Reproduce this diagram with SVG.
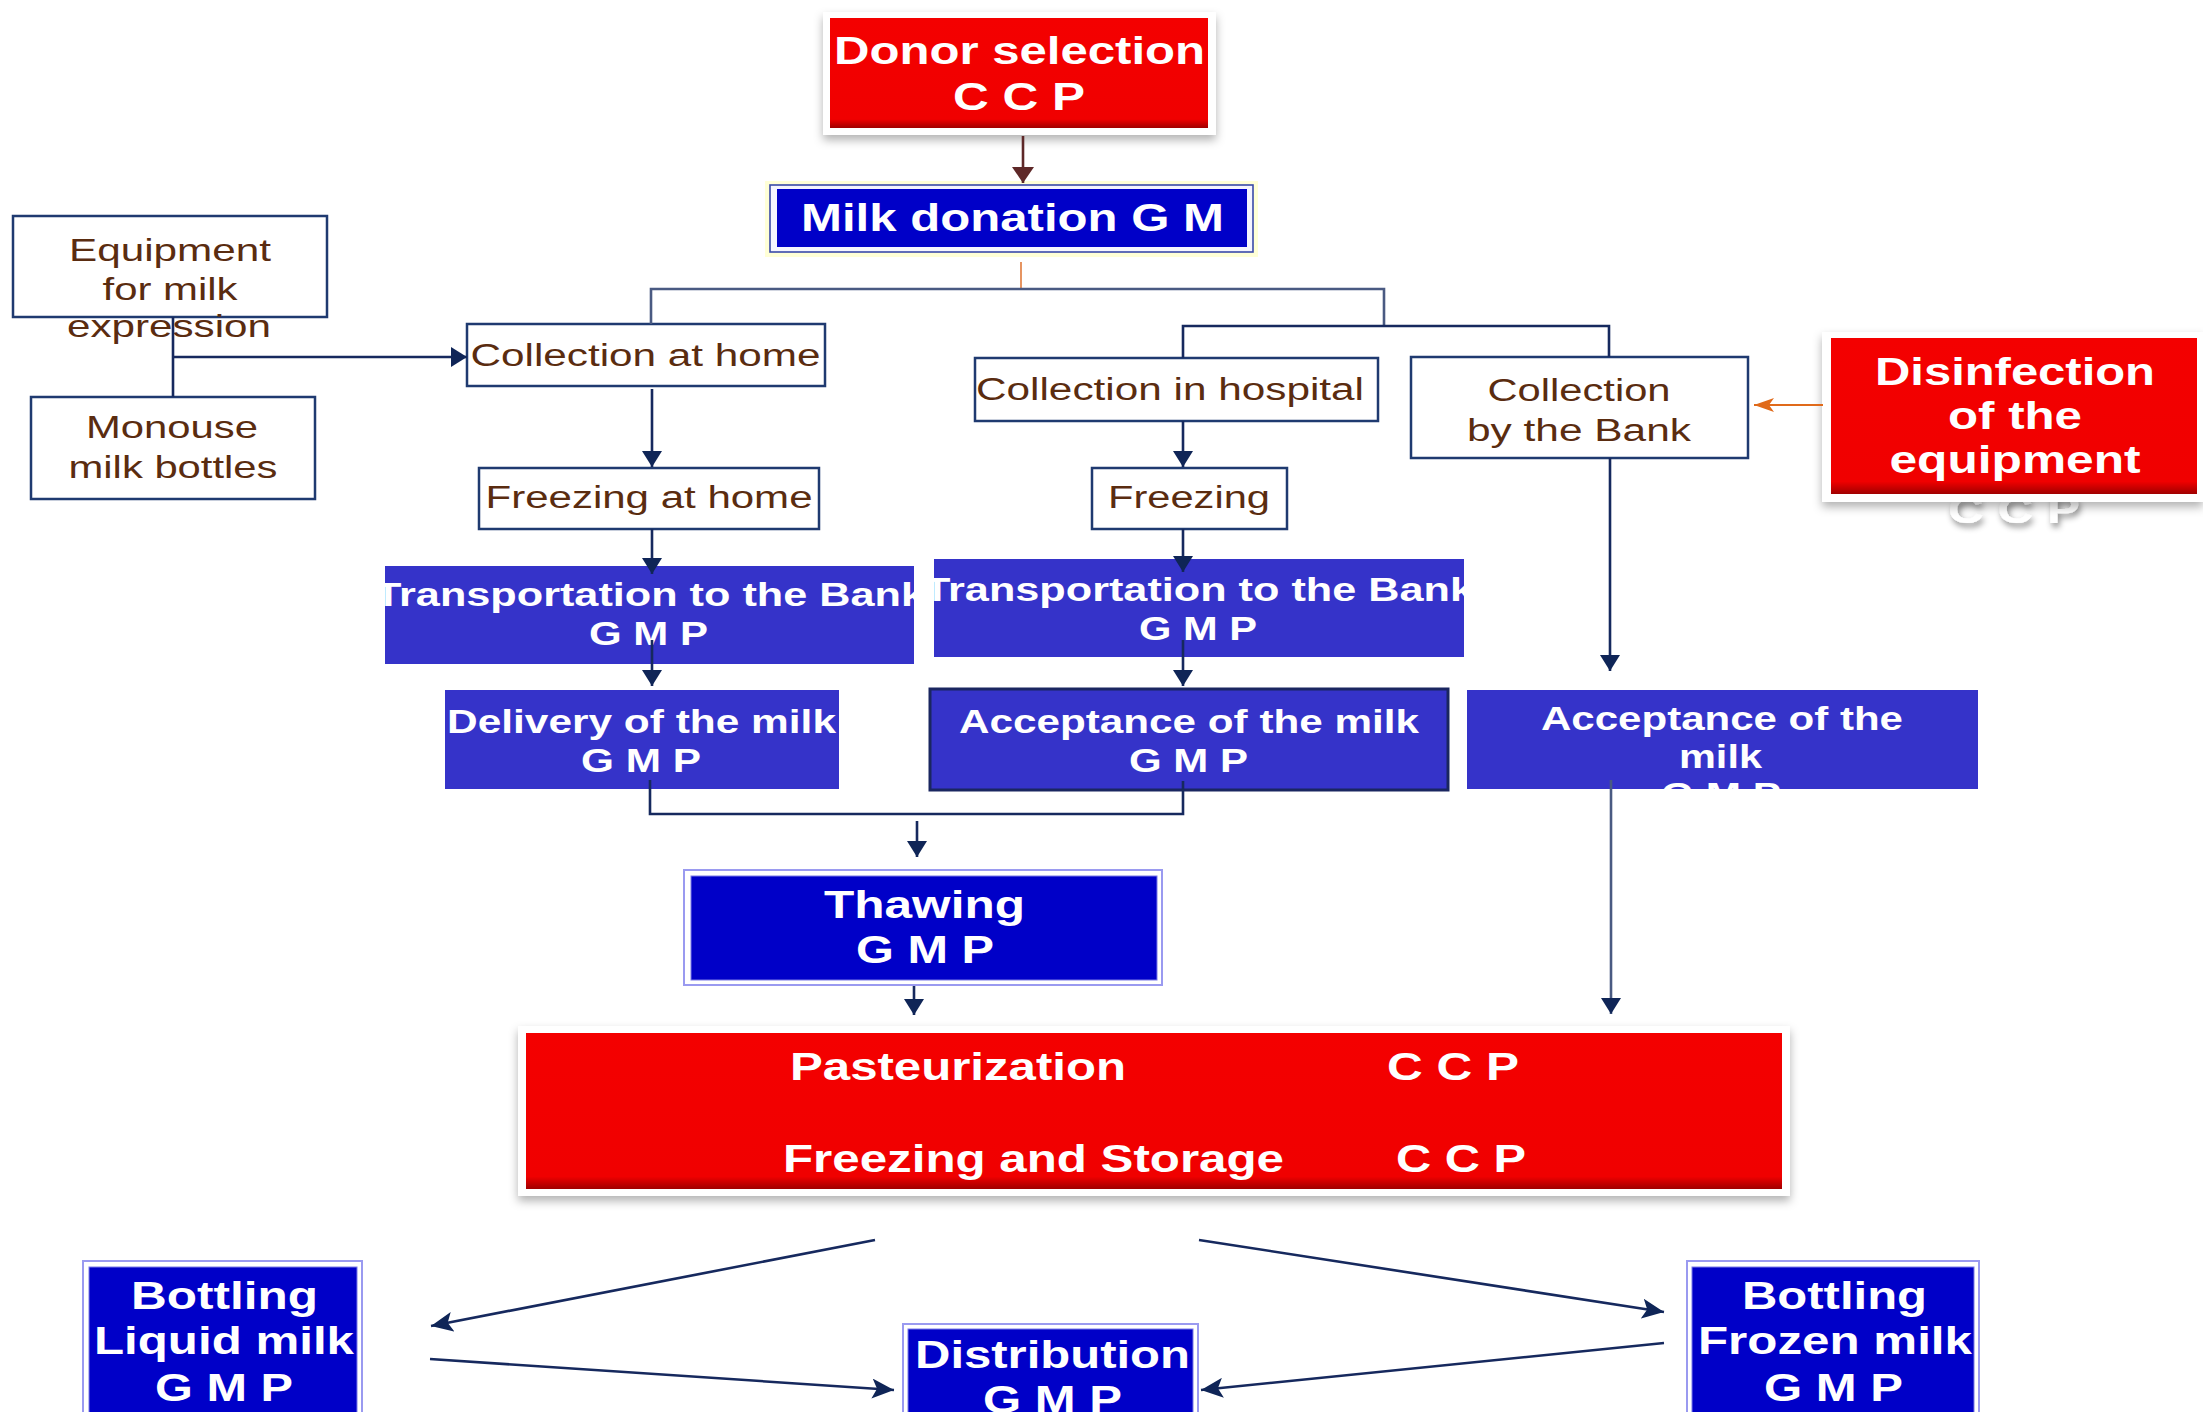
<svg xmlns="http://www.w3.org/2000/svg" width="2203" height="1412" viewBox="0 0 2203 1412">
<style>
  .wb { fill: #ffffff; stroke: #1f3a70; stroke-width: 2.5; }
  .bt { font-family: "Liberation Sans", Arial, sans-serif; font-size: 31px; fill: #5a2c10; text-anchor: middle; }
  .wt { font-family: "Liberation Sans", Arial, sans-serif; font-weight: bold; fill: #ffffff; text-anchor: middle; }
  .s33 { font-size: 33px; }
  .s38 { font-size: 38px; }
  .s39 { font-size: 39px; }
  .mid { fill: #3533c9; }
  .deep { fill: #0000c8; }
  .lav { fill: #ffffff; stroke: #9a9af0; stroke-width: 2; }
  .frame { fill: #ffffff; filter: url(#sh); }
  .red { fill: url(#rg); }
  .cn { fill: none; stroke: #16295e; stroke-width: 2.6; }
  .cg { fill: none; stroke: #4a5a82; stroke-width: 2.6; }
</style>
<defs>
  <linearGradient id="rg" x1="0" y1="0" x2="0" y2="1">
    <stop offset="0" stop-color="#f40000"/>
    <stop offset="0.92" stop-color="#f00000"/>
    <stop offset="1" stop-color="#a00000"/>
  </linearGradient>
  <filter id="sh" x="-5%" y="-15%" width="110%" height="140%">
    <feDropShadow dx="0" dy="5" stdDeviation="5" flood-color="#000000" flood-opacity="0.3"/>
  </filter>
  <filter id="tsh" x="-10%" y="-30%" width="130%" height="180%">
    <feDropShadow dx="2" dy="4" stdDeviation="3" flood-color="#000000" flood-opacity="0.45"/>
  </filter>
  <marker id="ah" viewBox="0 0 16 20" refX="16" refY="10" markerWidth="16" markerHeight="20" markerUnits="userSpaceOnUse" orient="auto">
    <path d="M0,0 L16,10 L0,20 z" fill="#0f2557"/>
  </marker>
  <marker id="ahb" viewBox="0 0 16 22" refX="16" refY="11" markerWidth="16" markerHeight="22" markerUnits="userSpaceOnUse" orient="auto">
    <path d="M0,0 L16,11 L0,22 z" fill="#5e2828"/>
  </marker>
  <marker id="aho" viewBox="0 0 20 14" refX="20" refY="7" markerWidth="20" markerHeight="14" markerUnits="userSpaceOnUse" orient="auto">
    <path d="M0,0 L20,7 L0,14 L5,7 z" fill="#e06a1a"/>
  </marker>
  <marker id="ahd" viewBox="0 0 22 20" refX="22" refY="10" markerWidth="22" markerHeight="20" markerUnits="userSpaceOnUse" orient="auto">
    <path d="M0,0 L22,10 L0,20 L5,10 z" fill="#0f2557"/>
  </marker>
  <clipPath id="clipT1"><rect x="385" y="566" width="529" height="98"/></clipPath>
  <clipPath id="clipT2"><rect x="934" y="559" width="530" height="98"/></clipPath>
  <clipPath id="clipA3"><rect x="1467" y="690" width="511" height="99"/></clipPath>
</defs>

<rect x="0" y="0" width="2203" height="1412" fill="#ffffff"/>

<g id="donor-selection">
  <rect class="frame" x="823" y="12" width="393" height="123"/>
  <rect class="red" x="830" y="18" width="378" height="110"/>
  <text class="wt s38" x="1019.5" y="64" textLength="371" lengthAdjust="spacingAndGlyphs">Donor selection</text>
  <text class="wt s38" x="1019" y="110" textLength="132" lengthAdjust="spacingAndGlyphs">C C P</text>
</g>

<g id="milk-donation">
  <rect x="765" y="181" width="493" height="76" fill="#ffffd6"/>
  <rect x="770" y="185" width="483" height="67" fill="#f4f4ff" stroke="#3a4aa8" stroke-width="1.6"/>
  <rect class="deep" x="777" y="189" width="470" height="58"/>
  <text class="wt s39" x="1012.5" y="231" textLength="423" lengthAdjust="spacingAndGlyphs">Milk donation G M</text>
</g>

<g id="equipment">
  <rect class="wb" x="13" y="216" width="314" height="101"/>
  <text class="bt" style="font-size:32px" x="170" y="261" textLength="202" lengthAdjust="spacingAndGlyphs">Equipment</text>
  <text class="bt" style="font-size:32px" x="170" y="300" textLength="135" lengthAdjust="spacingAndGlyphs">for milk</text>
  <text class="bt" style="font-size:32px" x="169" y="337" textLength="204" lengthAdjust="spacingAndGlyphs">expression</text>
</g>

<g id="monouse">
  <rect class="wb" x="31" y="397" width="284" height="102"/>
  <text class="bt" style="font-size:32px" x="172" y="438" textLength="172" lengthAdjust="spacingAndGlyphs">Monouse</text>
  <text class="bt" style="font-size:32px" x="173" y="478" textLength="209" lengthAdjust="spacingAndGlyphs">milk bottles</text>
</g>

<g id="collection-home">
  <rect class="wb" x="467" y="324" width="358" height="62"/>
  <text class="bt" x="645.5" y="366" textLength="350" lengthAdjust="spacingAndGlyphs">Collection at home</text>
</g>

<g id="freezing-home">
  <rect class="wb" x="479" y="468" width="340" height="61"/>
  <text class="bt" x="649" y="508" textLength="327" lengthAdjust="spacingAndGlyphs">Freezing at home</text>
</g>

<g id="collection-hospital">
  <rect class="wb" x="975" y="358" width="403" height="63"/>
  <text class="bt" x="1170" y="400" textLength="388" lengthAdjust="spacingAndGlyphs">Collection in hospital</text>
</g>

<g id="freezing">
  <rect class="wb" x="1092" y="468" width="195" height="61"/>
  <text class="bt" x="1189" y="508" textLength="162" lengthAdjust="spacingAndGlyphs">Freezing</text>
</g>

<g id="collection-bank">
  <rect class="wb" x="1411" y="357" width="337" height="101"/>
  <text class="bt" x="1579" y="401" textLength="183" lengthAdjust="spacingAndGlyphs">Collection</text>
  <text class="bt" x="1579" y="441" textLength="224" lengthAdjust="spacingAndGlyphs">by the Bank</text>
</g>

<g id="disinfection">
  <text class="wt s39" x="2014" y="523" textLength="132" lengthAdjust="spacingAndGlyphs" filter="url(#tsh)">C C P</text>
  <rect class="frame" x="1822" y="332" width="381" height="170"/>
  <rect class="red" x="1831" y="338" width="366" height="156"/>
  <text class="wt s39" x="2015" y="385" textLength="280" lengthAdjust="spacingAndGlyphs">Disinfection</text>
  <text class="wt s39" x="2015" y="429" textLength="134" lengthAdjust="spacingAndGlyphs">of the</text>
  <text class="wt s39" x="2015" y="473" textLength="251" lengthAdjust="spacingAndGlyphs">equipment</text>
</g>

<g id="transport-home">
  <rect class="mid" x="385" y="566" width="529" height="98"/>
  <g clip-path="url(#clipT1)">
    <text class="wt s33" x="650" y="606" textLength="550" lengthAdjust="spacingAndGlyphs">Transportation to the Bank</text>
  </g>
  <text class="wt s33" x="648.5" y="645" textLength="119" lengthAdjust="spacingAndGlyphs">G M P</text>
</g>

<g id="transport-hospital">
  <rect class="mid" x="934" y="559" width="530" height="98"/>
  <g clip-path="url(#clipT2)">
    <text class="wt s33" x="1199" y="601" textLength="550" lengthAdjust="spacingAndGlyphs">Transportation to the Bank</text>
  </g>
  <text class="wt s33" x="1198" y="640" textLength="118" lengthAdjust="spacingAndGlyphs">G M P</text>
</g>

<g id="delivery">
  <rect class="mid" x="445" y="690" width="394" height="99"/>
  <text class="wt s33" x="641.5" y="733" textLength="389" lengthAdjust="spacingAndGlyphs">Delivery of the milk</text>
  <text class="wt s33" x="641" y="772" textLength="120" lengthAdjust="spacingAndGlyphs">G M P</text>
</g>

<g id="acceptance-hospital">
  <rect class="mid" x="930" y="689" width="518" height="101" stroke="#1a2660" stroke-width="3"/>
  <text class="wt s33" x="1189" y="733" textLength="460" lengthAdjust="spacingAndGlyphs">Acceptance of the milk</text>
  <text class="wt s33" x="1188.5" y="772" textLength="119" lengthAdjust="spacingAndGlyphs">G M P</text>
</g>

<g id="acceptance-bank">
  <rect class="mid" x="1467" y="690" width="511" height="99"/>
  <g clip-path="url(#clipA3)">
    <text class="wt s33" x="1722" y="730" textLength="362" lengthAdjust="spacingAndGlyphs">Acceptance of the</text>
    <text class="wt s33" x="1720.5" y="768" textLength="83" lengthAdjust="spacingAndGlyphs">milk</text>
    <text class="wt s33" x="1721" y="806" textLength="120" lengthAdjust="spacingAndGlyphs">G M P</text>
  </g>
</g>

<g id="thawing">
  <rect class="lav" x="684" y="870" width="478" height="115"/>
  <rect class="deep" x="691" y="876" width="466" height="104" stroke="#7a7ae8" stroke-width="1"/>
  <text class="wt s39" x="924.5" y="918" textLength="201" lengthAdjust="spacingAndGlyphs">Thawing</text>
  <text class="wt s39" x="925" y="963" textLength="138" lengthAdjust="spacingAndGlyphs">G M P</text>
</g>

<g id="pasteurization">
  <rect class="frame" x="518" y="1026" width="1272" height="170"/>
  <rect class="red" x="526" y="1033" width="1256" height="156"/>
  <text class="wt s39" x="958" y="1080" textLength="336" lengthAdjust="spacingAndGlyphs">Pasteurization</text>
  <text class="wt s39" x="1453" y="1080" textLength="132" lengthAdjust="spacingAndGlyphs">C C P</text>
  <text class="wt s39" x="1033.5" y="1172" textLength="501" lengthAdjust="spacingAndGlyphs">Freezing and Storage</text>
  <text class="wt s39" x="1461" y="1172" textLength="130" lengthAdjust="spacingAndGlyphs">C C P</text>
</g>

<g id="bottling-liquid">
  <rect class="lav" x="83" y="1261" width="279" height="160"/>
  <rect class="deep" x="89" y="1267" width="268" height="160" stroke="#7a7ae8" stroke-width="1"/>
  <text class="wt s38" x="224.5" y="1309" textLength="187" lengthAdjust="spacingAndGlyphs">Bottling</text>
  <text class="wt s38" x="224" y="1354" textLength="260" lengthAdjust="spacingAndGlyphs">Liquid milk</text>
  <text class="wt s38" x="224" y="1401" textLength="138" lengthAdjust="spacingAndGlyphs">G M P</text>
</g>

<g id="distribution">
  <rect class="lav" x="903" y="1324" width="295" height="100"/>
  <rect class="deep" x="908" y="1329" width="285" height="100" stroke="#7a7ae8" stroke-width="1"/>
  <text class="wt s39" x="1052.5" y="1368" textLength="275" lengthAdjust="spacingAndGlyphs">Distribution</text>
  <text class="wt s39" x="1052.5" y="1413" textLength="139" lengthAdjust="spacingAndGlyphs">G M P</text>
</g>

<g id="bottling-frozen">
  <rect class="lav" x="1687" y="1261" width="292" height="160"/>
  <rect class="deep" x="1692" y="1267" width="282" height="160" stroke="#7a7ae8" stroke-width="1"/>
  <text class="wt s38" x="1834.5" y="1309" textLength="185" lengthAdjust="spacingAndGlyphs">Bottling</text>
  <text class="wt s38" x="1835" y="1354" textLength="274" lengthAdjust="spacingAndGlyphs">Frozen milk</text>
  <text class="wt s38" x="1833.5" y="1401" textLength="139" lengthAdjust="spacingAndGlyphs">G M P</text>
</g>

<g id="connectors">
  <path d="M1023,136 L1023,183" fill="none" stroke="#5e2828" stroke-width="2.6" marker-end="url(#ahb)"/>
  <path d="M1021,262 L1021,288" fill="none" stroke="#e07a3a" stroke-width="1.6"/>
  <path class="cg" d="M651,324 L651,289 L1384,289 L1384,326"/>
  <path class="cn" d="M1183,358 L1183,326 L1609,326 L1609,357"/>
  <path class="cn" d="M173,317 L173,397"/>
  <path class="cn" d="M173,357 L467,357" marker-end="url(#ah)"/>
  <path class="cn" d="M652,389 L652,467" marker-end="url(#ah)"/>
  <path class="cn" d="M652,529 L652,574" marker-end="url(#ah)"/>
  <path class="cn" d="M652,640 L652,686" marker-end="url(#ah)"/>
  <path class="cn" d="M1183,421 L1183,467" marker-end="url(#ah)"/>
  <path class="cn" d="M1183,529 L1183,572" marker-end="url(#ah)"/>
  <path class="cn" d="M1183,640 L1183,686" marker-end="url(#ah)"/>
  <path class="cn" d="M1610,458 L1610,671" marker-end="url(#ah)"/>
  <path d="M1823,405 L1754,405" fill="none" stroke="#e06a1a" stroke-width="2" marker-end="url(#aho)"/>
  <path class="cn" d="M650,780 L650,814 L1183,814 L1183,781"/>
  <path class="cn" d="M917,821 L917,857" marker-end="url(#ah)"/>
  <path class="cn" d="M914,986 L914,1015" marker-end="url(#ah)"/>
  <path class="cg" d="M1611,780 L1611,1014" marker-end="url(#ah)"/>
  <path class="cn" d="M875,1240 L431,1326" marker-end="url(#ahd)"/>
  <path class="cn" d="M1199,1240 L1664,1312" marker-end="url(#ahd)"/>
  <path class="cn" d="M430,1359 L894,1390" marker-end="url(#ahd)"/>
  <path class="cn" d="M1664,1343 L1201,1390" marker-end="url(#ahd)"/>
</g>
</svg>
